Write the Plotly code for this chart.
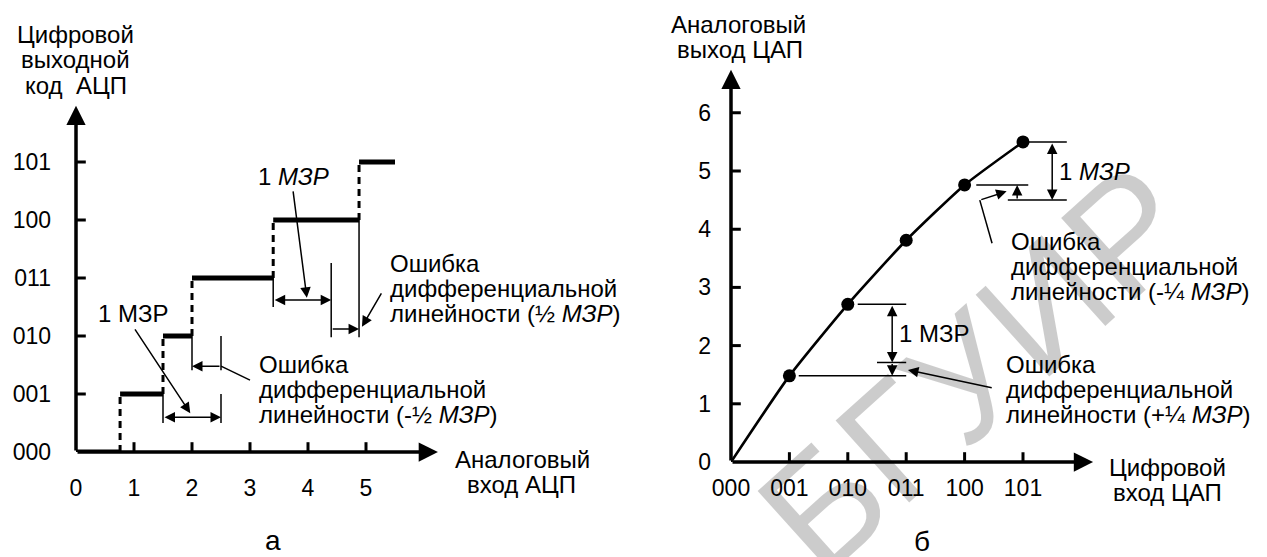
import plotly.graph_objects as go

W, H = 1267, 557
FONT = "Liberation Sans, Arial, sans-serif"

# ---------------- data: panel "а" (ADC transfer characteristic) ----------------
adc_codes = ["000", "001", "010", "011", "100", "101"]
adc_levels = [0, 1, 2, 3, 4, 5]
adc_thresholds = [0.76, 1.5, 2.0, 3.4, 4.88]   # transition points on analog input
adc_last_end = 5.5
adc_x_ticks = [0, 1, 2, 3, 4, 5]
adc_x_labels = ["0", "1", "2", "3", "4", "5"]

# ---------------- data: panel "б" (DAC transfer characteristic) ----------------
dac_codes = ["000", "001", "010", "011", "100", "101"]
dac_positions = [0, 1, 2, 3, 4, 5]
dac_output = [0, 1.48, 2.71, 3.81, 4.76, 5.5]
dac_y_ticks = [0, 1, 2, 3, 4, 5, 6]
dac_y_labels = ["0", "1", "2", "3", "4", "5", "6"]

LSB = 1.0

fig = go.Figure()

# ---------------- helpers ----------------
def seg_trace(segs, xa, ya, width=1.5, dash=None):
    xs, ys = [], []
    for (x0, y0, x1, y1) in segs:
        xs += [x0, x1, None]
        ys += [y0, y1, None]
    fig.add_trace(go.Scatter(x=xs, y=ys, mode="lines", xaxis=xa, yaxis=ya,
                             line=dict(color="black", width=width, dash=dash),
                             hoverinfo="skip", showlegend=False))

annotations = []

def arrow(panel, x0, y0, x1, y1, width=1.5, size=1.4, both=False):
    xr, yr = ("x", "y") if panel == "a" else ("x2", "y2")
    annotations.append(dict(
        x=x1, y=y1, ax=x0, ay=y0, xref=xr, yref=yr, axref=xr, ayref=yr,
        text="", showarrow=True, arrowhead=2, startarrowhead=2,
        arrowside="end+start" if both else "end",
        arrowwidth=width, arrowsize=size, startarrowsize=size,
        arrowcolor="black", standoff=0, startstandoff=0))

def label(text, x_px, baseline_px, size=24, anchor="left"):
    yc = baseline_px - 0.3465 * size
    annotations.append(dict(
        x=x_px / W, y=1 - yc / H, xref="paper", yref="paper", text=text,
        showarrow=False, xanchor=anchor, yanchor="middle", borderpad=0,
        font=dict(size=size, color="black", family=FONT)))

# ---------------- watermark (first, so everything else is on top) ----------------
annotations.append(dict(
    x=975 / W, y=1 - 368 / H, xref="paper", yref="paper", text="БГУИР",
    showarrow=False, textangle=-42, xanchor="center", yanchor="middle",
    font=dict(size=160, color="rgba(0,0,0,0.2)", family=FONT)))

# ================= panel а =================
# staircase
sx, sy = [], []
for k in adc_levels:
    start = 0 if k == 0 else adc_thresholds[k - 1]
    end = adc_thresholds[k] if k < len(adc_thresholds) else adc_last_end
    sx += [start, end, None]
    sy += [k, k, None]
fig.add_trace(go.Scatter(x=sx, y=sy, mode="lines", xaxis="x", yaxis="y",
                         line=dict(color="black", width=5), hoverinfo="skip",
                         showlegend=False))
# dashed risers
seg_trace([(t, k, t, k + 1) for k, t in enumerate(adc_thresholds)], "x", "y",
          width=3, dash="7px,5px")

# axis tick marks
fig.add_trace(go.Scatter(x=[0] * 5, y=adc_levels[1:], mode="markers", xaxis="x", yaxis="y",
                         marker=dict(symbol="line-ew", size=14, line=dict(width=3, color="black")),
                         hoverinfo="skip", showlegend=False))
fig.add_trace(go.Scatter(x=adc_x_ticks[1:], y=[0] * 5, mode="markers", xaxis="x", yaxis="y",
                         marker=dict(symbol="line-ns", size=14, line=dict(width=3, color="black")),
                         hoverinfo="skip", showlegend=False))
# axes with arrows
arrow("a", 0, 0, 0, 5.97, width=3.5, size=1.1)
arrow("a", 0, 0, 6.24, 0, width=3.5, size=1.1)

t1, t2, t3, t4 = adc_thresholds[1], adc_thresholds[2], adc_thresholds[3], adc_thresholds[4]
# annotation reference lines
seg_trace([
    (t1, 1, t1, 0.5), (t1 + LSB, 1, t1 + LSB, 0.5),          # 1 LSB below step 001
    (t2, 2, t2, 1.41), (t1 + LSB, 2, t1 + LSB, 1.41),          # -1/2 LSB error
    (t3, 3, t3, 2.5), (t3 + LSB, 3.26, t3 + LSB, 1.98),        # 1 LSB at step 011
    (t4, 4, t4, 1.98),
    (t1 + LSB, 1.48, 3.0, 1.24),                               # leader to text
], "x", "y", width=1.5)
arrow("a", t1, 0.6, t1 + LSB, 0.6, both=True)
arrow("a", t1 + LSB, 1.48, t2, 1.48)
arrow("a", 1.0, 2.14, 1.97, 0.67)
arrow("a", t3, 2.62, t3 + LSB, 2.62, both=True)
arrow("a", t3 + LSB, 2.12, t4, 2.12)
arrow("a", 3.74, 4.52, 3.98, 2.66)
arrow("a", 5.28, 2.76, 4.93, 2.16)

# texts panel а
label("Цифровой", 75, 43, anchor="center")
label("выходной", 75, 68, anchor="center")
label("код\u00a0 АЦП", 76, 94, anchor="center")
label("Аналоговый", 522, 468, anchor="center")
label("вход АЦП", 521, 493, anchor="center")
label("1 <i>МЗР</i>", 293, 185, anchor="center")
label("1 МЗР", 133, 322, anchor="center")
label("Ошибка", 389, 272)
label("дифференциальной", 389, 297)
label("линейности (½ <i>МЗР</i>)", 389, 322)
label("Ошибка", 258, 373)
label("дифференциальной", 258, 398)
label("линейности (-½ <i>МЗР</i>)", 258, 423)
label("а", 273, 550, size=28, anchor="center")

# ================= panel б =================
fig.add_trace(go.Scatter(x=dac_positions, y=dac_output, mode="lines", xaxis="x2", yaxis="y2",
                         line=dict(color="black", width=2.6, shape="spline", smoothing=0.55),
                         hoverinfo="skip", showlegend=False))
fig.add_trace(go.Scatter(x=dac_positions[1:], y=dac_output[1:], mode="markers", xaxis="x2", yaxis="y2",
                         marker=dict(color="black", size=13), hoverinfo="skip", showlegend=False))
fig.add_trace(go.Scatter(x=[0] * 6, y=dac_y_ticks[1:], mode="markers", xaxis="x2", yaxis="y2",
                         marker=dict(symbol="line-ew", size=14, line=dict(width=3, color="black")),
                         hoverinfo="skip", showlegend=False))
fig.add_trace(go.Scatter(x=dac_positions[1:], y=[0] * 5, mode="markers", xaxis="x2", yaxis="y2",
                         marker=dict(symbol="line-ns", size=14, line=dict(width=3, color="black")),
                         hoverinfo="skip", showlegend=False))
arrow("b", 0, 0, 0, 6.74, width=3.5, size=1.1)
arrow("b", 0, 0, 6.2, 0, width=3.5, size=1.1)

o1, o2, o4, o5 = dac_output[1], dac_output[2], dac_output[4], dac_output[5]
seg_trace([
    (dac_positions[5], o5, 5.75, o5),
    (4.74, o5 - LSB, 5.75, o5 - LSB),
    (4.2, o4, 5.09, o4),
    (2.17, o2, 3.0, o2),
    (1.16, o1, 3.0, o1),
    (2.5, o2 - LSB, 3.0, o2 - LSB),
    (4.47, 3.76, 4.26, 4.5),
], "x2", "y2", width=1.5)
arrow("b", 5.5, o5, 5.5, o5 - LSB, both=True)
arrow("b", 4.9, o5 - LSB, 4.9, o4)
arrow("b", 4.26, 4.5, 4.72, 4.65)
arrow("b", 2.76, o2, 2.76, o2 - LSB, both=True)
arrow("b", 2.76, o2 - LSB, 2.76, o1)
arrow("b", 4.49, 1.27, 3.03, 1.58)

label("Аналоговый", 738, 33, anchor="center")
label("выход ЦАП", 740, 58, anchor="center")
label("Цифровой", 1167, 476, anchor="center")
label("вход ЦАП", 1167, 501, anchor="center")
label("1 <i>МЗР</i>", 1058, 180)
label("1 МЗР", 898, 342)
label("Ошибка", 1010, 250)
label("дифференциальной", 1010, 275)
label("линейности (-¼ <i>МЗР</i>)", 1010, 300)
label("Ошибка", 1005, 373)
label("дифференциальной", 1005, 398)
label("линейности (+¼ <i>МЗР</i>)", 1005, 423)
label("б", 922, 551, size=28, anchor="center")

# ---------------- axes ----------------
common = dict(showgrid=False, zeroline=False, showline=False, ticks="", automargin=False,
              fixedrange=True, tickfont=dict(size=23, color="black", family=FONT))
fig.update_layout(
    width=W, height=H, margin=dict(l=0, r=0, t=0, b=0, pad=0, autoexpand=False),
    paper_bgcolor="white", plot_bgcolor="rgba(0,0,0,0)", showlegend=False,
    xaxis=dict(domain=[76 / W, (76 + 7 * 58) / W], range=[0, 7],
               tickvals=adc_x_ticks, ticktext=adc_x_labels, ticklabelstandoff=20, **common),
    yaxis=dict(domain=[(H - 452) / H, (H - 452 + 6.6 * 58) / H], range=[0, 6.6],
               tickvals=adc_levels, ticktext=adc_codes, ticklabelstandoff=24, **common),
    xaxis2=dict(domain=[731 / W, (731 + 7 * 58.4) / W], range=[0, 7], anchor="y2",
                tickvals=dac_positions, ticktext=dac_codes, ticklabelstandoff=10, **common),
    yaxis2=dict(domain=[(H - 462) / H, (H - 462 + 7 * 58.2) / H], range=[0, 7], anchor="x2",
                tickvals=dac_y_ticks, ticktext=dac_y_labels, ticklabelstandoff=19, **common),
    annotations=annotations,
)

fig.write_html(
    "out.html",
    config={"displayModeBar": False},
    post_script="document.body.style.margin='0px';"
                "document.documentElement.style.overflow='hidden';",
)
